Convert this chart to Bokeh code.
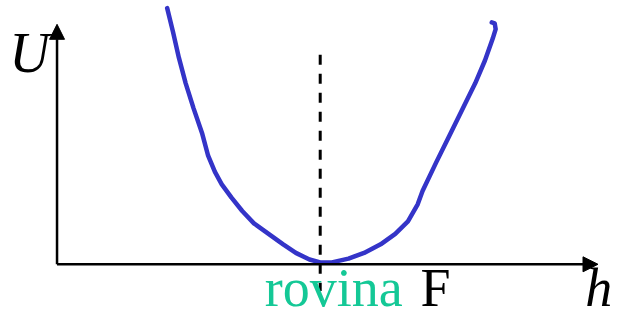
from bokeh.plotting import figure
from bokeh.models import Arrow, NormalHead
from bokeh.core.properties import value
from bokeh.embed import file_html
from bokeh.resources import INLINE

# Potential energy curve U(h) (origin = axes corner)
curve_h = [113, 119, 125, 132, 140, 149, 155, 162, 169, 179, 190, 202, 217,
           232, 245, 259, 270, 282, 299, 315, 332, 347, 360, 370, 375, 389,
           402, 415, 429, 439, 447, 450, 449, 446]
curve_U = [269, 244, 217, 190, 164, 137, 114, 97, 84, 70, 56, 43, 32,
           21, 12, 5, 2, 2, 6, 12, 21, 32, 45, 63, 77, 107,
           134, 161, 190, 214, 237, 247, 253, 254]

# Equilibrium marker (dashed vertical line)
eq_h = [270, 270]
eq_U = [220, -28]

# Axis extents (arrow tips)
h_axis_end = 555
U_axis_end = 252

# Labels
y_label = "U"
x_label = "h"
eq_label_green = "rovina"
eq_label_black = "F"

p = figure(width=617, height=320, output_backend="svg", toolbar_location=None,
           x_range=(-58, 575), y_range=(-59, 277), min_border=0)
p.axis.visible = False
p.grid.visible = False
p.outline_line_color = None
p.background_fill_color = "white"
p.border_fill_color = "white"

# axes with arrow heads
p.add_layout(Arrow(end=NormalHead(size=15, fill_color="black", line_color="black", line_width=1),
                   x_start=0, y_start=0, x_end=h_axis_end, y_end=0,
                   line_color="black", line_width=2.5))
p.add_layout(Arrow(end=NormalHead(size=15, fill_color="black", line_color="black", line_width=1),
                   x_start=0, y_start=0, x_end=0, y_end=U_axis_end,
                   line_color="black", line_width=2.5))

# dashed equilibrium line
p.line(eq_h, eq_U, line_color="black", line_width=3, line_dash="10 9")

# curve
p.line(curve_h, curve_U, line_color="#3434c8", line_width=4.5,
       line_cap="round", line_join="round")

font = value("Liberation Serif")
p.text(x=[-49], y=[222], text=[y_label], text_font=font, text_font_size="56px",
       text_font_style="italic", text_color="black",
       text_align="left", text_baseline="alphabetic")
p.text(x=[542], y=[-25], text=[x_label], text_font=font, text_font_size="54px",
       text_font_style="italic", text_color="black",
       text_align="left", text_baseline="alphabetic")
p.text(x=[213], y=[-25], text=[eq_label_green], text_font=font, text_font_size="54px",
       text_color="#14c896", text_align="left", text_baseline="alphabetic")
p.text(x=[373], y=[-25], text=[eq_label_black], text_font=font, text_font_size="54px",
       text_color="black", text_align="left", text_baseline="alphabetic")

open("out.html", "w").write(file_html(p, INLINE))
